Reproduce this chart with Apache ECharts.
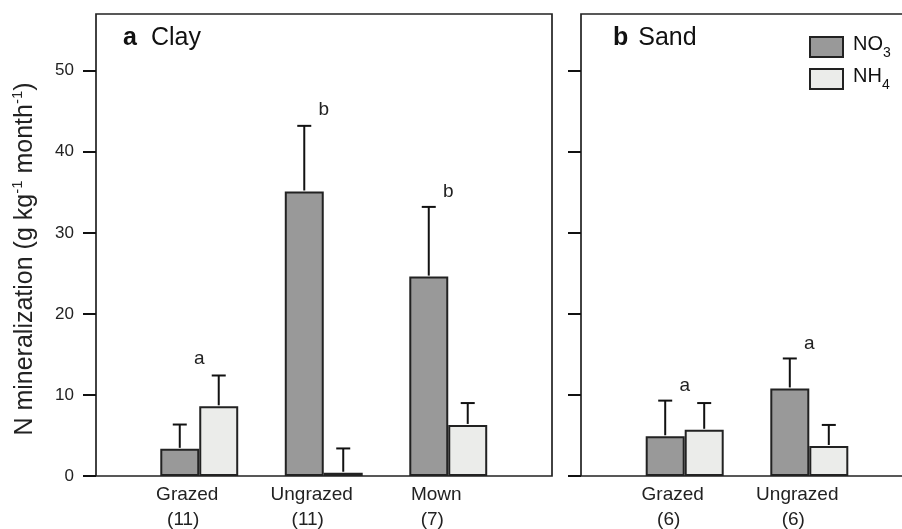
<!DOCTYPE html>
<html>
<head>
<meta charset="utf-8">
<script src="https://cdn.jsdelivr.net/npm/echarts@6/dist/echarts.min.js"></script>
<style>
html,body{margin:0;padding:0;background:#fff;}
#chart{width:902px;height:529px;}
</style>
</head>
<body>
<div id="chart"></div>
<script>
// ---- data ----
const clayCats = ['Grazed', 'Ungrazed', 'Mown'];
const clayN = [11, 11, 7];
const clayNO3 = [3.35, 35.1, 24.6];
const clayNO3SE = [3.0, 8.1, 8.6];
const clayNH4 = [8.6, 0.4, 6.3];
const clayNH4SE = [3.8, 3.0, 2.7];
const clayLetters = ['a', 'b', 'b'];
const clayLetterY = [14.5, 45.2, 35.1];

const sandCats = ['Grazed', 'Ungrazed'];
const sandN = [6, 6];
const sandNO3 = [4.9, 10.8];
const sandNO3SE = [4.4, 3.7];
const sandNH4 = [5.7, 3.7];
const sandNH4SE = [3.3, 2.6];
const sandLetters = ['a', 'a'];
const sandLetterY = [11.1, 16.3];

const yTicks = [0, 10, 20, 30, 40, 50];
const yMax = 57;

// ---- styles ----
const FONT = '"Liberation Sans", Arial, Helvetica, sans-serif';
const BAR_FRAC = 0.313;
const NO3_COLOR = '#999999';
const NH4_COLOR = '#ebecea';
const EDGE = '#222222';

function errData(vals, se) {
  return vals.map((v, i) => [i, v, v + se[i]]);
}

function errSeries(name, vals, se, side, axisIdx) {
  return {
    type: 'custom', name: name, xAxisIndex: axisIdx, yAxisIndex: axisIdx, z: 5,
    encode: { x: 0, y: [1, 2] },
    data: errData(vals, se),
    renderItem: function (params, api) {
      const band = api.size([1, 0])[0];
      const w = band * BAR_FRAC;
      const p0 = api.coord([api.value(0), api.value(1)]);
      const p1 = api.coord([api.value(0), api.value(2)]);
      const x = p0[0] + side * w / 2;
      const st = { stroke: '#111', lineWidth: 2 };
      return {
        type: 'group',
        children: [
          { type: 'line', shape: { x1: x, y1: p0[1] - 1, x2: x, y2: p1[1] }, style: st },
          { type: 'line', shape: { x1: x - 7, y1: p1[1], x2: x + 7, y2: p1[1] }, style: st }
        ]
      };
    }
  };
}

function letterSeries(letters, ys, axisIdx) {
  return {
    type: 'custom', name: 'letters' + axisIdx, xAxisIndex: axisIdx, yAxisIndex: axisIdx, z: 6,
    encode: { x: 0, y: 1 },
    data: ys.map((y, i) => [i, y]),
    renderItem: function (params, api) {
      const p = api.coord([api.value(0), api.value(1)]);
      return {
        type: 'text', x: p[0], y: p[1],
        style: { text: letters[params.dataIndex], font: '19px ' + FONT, fill: '#222', align: 'center', verticalAlign: 'middle' }
      };
    }
  };
}

function barSeries(name, vals, color, axisIdx) {
  return {
    type: 'bar', name: name, xAxisIndex: axisIdx, yAxisIndex: axisIdx,
    data: vals, barWidth: (BAR_FRAC * 100) + '%', barGap: '0%',
    itemStyle: { color: color, borderColor: EDGE, borderWidth: 2 },
    emphasis: { disabled: true }, silent: true
  };
}

const xLabelRich = {
  l1: { fontSize: 19, fontFamily: FONT, color: '#222', lineHeight: 25, align: 'center', padding: [0, 24, 0, 0] },
  l2: { fontSize: 19, fontFamily: FONT, color: '#222', lineHeight: 25, align: 'center', padding: [0, 32, 0, 0] }
};

function xAxisFor(cats, ns, gridIdx) {
  return {
    type: 'category', gridIndex: gridIdx, data: cats.map((c, i) => i),
    boundaryGap: true,
    axisLine: { show: false }, axisTick: { show: false },
    axisLabel: {
      margin: 6, interval: 0,
      formatter: function (v, i) { return '{l1|' + cats[i] + '}\n{l2|(' + ns[i] + ')}'; },
      rich: xLabelRich
    }
  };
}

function yAxisFor(gridIdx, offset, showLabels, withName) {
  const ax = {
    type: 'value', gridIndex: gridIdx, min: 0, max: yMax, interval: 10, offset: offset,
    axisLine: { show: false },
    axisTick: { show: true, inside: false, length: 13, lineStyle: { color: '#111', width: 2 }, customValues: yTicks },
    axisLabel: { show: showLabels, margin: 22, fontSize: 17, fontFamily: FONT, color: '#222', customValues: yTicks },
    splitLine: { show: false }
  };
  if (withName) {
    ax.name = 'N mineralization (g kg{sup|-1} month{sup|-1})';
    ax.nameLocation = 'middle';
    ax.nameGap = 71;
    ax.nameTextStyle = {
      fontSize: 25, fontFamily: FONT, color: '#222', lineHeight: 30, verticalAlign: 'middle',
      padding: [0, 28, 0, 0],
      rich: {
        sup: { fontSize: 15, fontFamily: FONT, color: '#222', verticalAlign: 'top', lineHeight: 14 }
      }
    };
  }
  return ax;
}

const chart = echarts.init(document.getElementById('chart'), null, { renderer: 'canvas' });

const option = {
  animation: false,
  backgroundColor: '#ffffff',
  textStyle: { fontFamily: FONT },
  title: [
    {
      text: '{b|a}{n|Clay}', left: 123, top: 26, padding: 0,
      textStyle: { fontWeight: 'normal', rich: {
        b: { fontSize: 25, fontWeight: 'bold', fontFamily: FONT, color: '#111', padding: [0, 14, 0, 0], lineHeight: 25 },
        n: { fontSize: 25, fontWeight: 'normal', fontFamily: FONT, color: '#111', lineHeight: 25 }
      } }
    },
    {
      text: '{b|b}{n|Sand}', left: 613, top: 26, padding: 0,
      textStyle: { fontWeight: 'normal', rich: {
        b: { fontSize: 25, fontWeight: 'bold', fontFamily: FONT, color: '#111', padding: [0, 10, 0, 0], lineHeight: 25 },
        n: { fontSize: 25, fontWeight: 'normal', fontFamily: FONT, color: '#111', lineHeight: 25 }
      } }
    }
  ],
  legend: {
    data: ['NO3', 'NH4'], orient: 'vertical', left: 809, top: 34, padding: 0,
    itemWidth: 33, itemHeight: 20, itemGap: 6, icon: 'rect',
    selectedMode: false,
    formatter: function (name) {
      return '{n|' + name.slice(0, 2) + '}{s|' + name.slice(2) + '}';
    },
    textStyle: { rich: {
      n: { fontSize: 20, fontFamily: FONT, color: '#111', padding: [0, 0, 0, 5], lineHeight: 20, verticalAlign: 'top' },
      s: { fontSize: 14, fontFamily: FONT, color: '#111', lineHeight: 26, verticalAlign: 'top', padding: [12, 0, 0, 0] }
    } }
  },
  grid: [
    { left: 137, right: 391.5, top: 14, bottom: 53, containLabel: false, outerBoundsMode: 'none' },
    { left: 622.4, right: 30.4, top: 14, bottom: 53, containLabel: false, outerBoundsMode: 'none' },
    { left: 96, right: 350, top: 14, bottom: 53, show: true, borderColor: EDGE, borderWidth: 1.7, backgroundColor: 'transparent', outerBoundsMode: 'none' },
    { left: 581, width: 400, top: 14, bottom: 53, show: true, borderColor: EDGE, borderWidth: 1.7, backgroundColor: 'transparent', outerBoundsMode: 'none' }
  ],
  xAxis: [
    xAxisFor(clayCats, clayN, 0),
    xAxisFor(sandCats, sandN, 1),
    { type: 'value', gridIndex: 2, show: false },
    { type: 'value', gridIndex: 3, show: false }
  ],
  yAxis: [
    yAxisFor(0, 41, true, true),
    yAxisFor(1, 41.4, false, false),
    { type: 'value', gridIndex: 2, show: false },
    { type: 'value', gridIndex: 3, show: false }
  ],
  series: [
    barSeries('NO3', clayNO3, NO3_COLOR, 0),
    barSeries('NH4', clayNH4, NH4_COLOR, 0),
    barSeries('NO3', sandNO3, NO3_COLOR, 1),
    barSeries('NH4', sandNH4, NH4_COLOR, 1),
    errSeries('errA1', clayNO3, clayNO3SE, -1, 0),
    errSeries('errA2', clayNH4, clayNH4SE, 1, 0),
    errSeries('errB1', sandNO3, sandNO3SE, -1, 1),
    errSeries('errB2', sandNH4, sandNH4SE, 1, 1),
    letterSeries(clayLetters, clayLetterY, 0),
    letterSeries(sandLetters, sandLetterY, 1)
  ]
};

chart.setOption(option);
</script>
</body>
</html>
